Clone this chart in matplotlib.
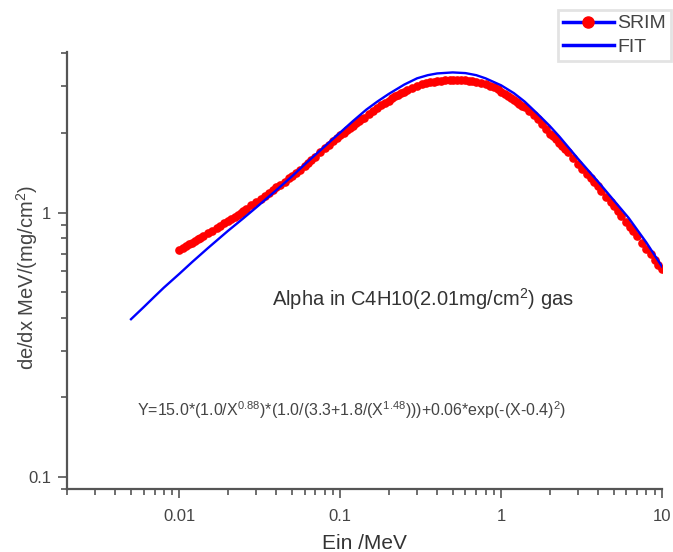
import matplotlib
matplotlib.use("Agg")
import matplotlib.pyplot as plt
from matplotlib.lines import Line2D
from matplotlib.ticker import FixedLocator, FixedFormatter, LogLocator, NullFormatter

plt.rcParams['font.family'] = ['Liberation Sans', 'DejaVu Sans']
plt.rcParams['mathtext.default'] = 'regular'

# SRIM stopping power (MeV, MeV/(mg/cm2))
srim_e = [0.0100, 0.0105, 0.0110, 0.0115, 0.0120, 0.0125, 0.0130, 0.0135, 0.0140, 0.0150,
          0.0160, 0.0170, 0.0180, 0.0190, 0.0200, 0.0210, 0.0220, 0.0230, 0.0240, 0.0250,
          0.0260, 0.0280, 0.0300, 0.0320, 0.0340, 0.0360, 0.0380, 0.0400, 0.0420, 0.0450,
          0.0480, 0.0500, 0.0530, 0.0560, 0.0600, 0.0630, 0.0660, 0.0700, 0.0750, 0.0800,
          0.0850, 0.0900, 0.0950,
          0.100, 0.105, 0.110, 0.115, 0.120, 0.125, 0.130, 0.135, 0.140, 0.150,
          0.160, 0.170, 0.180, 0.190, 0.200, 0.210, 0.220, 0.230, 0.240, 0.250,
          0.260, 0.280, 0.300, 0.320, 0.340, 0.360, 0.380, 0.400, 0.420, 0.450,
          0.480, 0.500, 0.530, 0.560, 0.600, 0.630, 0.660, 0.700, 0.750, 0.800,
          0.850, 0.900, 0.950,
          1.00, 1.05, 1.10, 1.15, 1.20, 1.25, 1.30, 1.35, 1.40, 1.50,
          1.60, 1.70, 1.80, 1.90, 2.00, 2.10, 2.20, 2.30, 2.40, 2.50,
          2.60, 2.80, 3.00, 3.20, 3.40, 3.60, 3.80, 4.00, 4.20, 4.50,
          4.80, 5.00, 5.30, 5.60, 6.00, 6.30, 6.60, 7.00, 7.50, 8.00,
          8.50, 9.00, 9.50, 10.0]
srim_dedx = [0.720, 0.733, 0.746, 0.758, 0.770, 0.781, 0.792, 0.803, 0.814, 0.835,
             0.855, 0.874, 0.893, 0.912, 0.930, 0.948, 0.965, 0.982, 0.999, 1.016,
             1.032, 1.065, 1.097, 1.129, 1.159, 1.189, 1.218, 1.245, 1.271, 1.308,
             1.347, 1.373, 1.412, 1.451, 1.502, 1.541, 1.579, 1.629, 1.690, 1.749,
             1.806, 1.861, 1.912,
             1.960, 2.005, 2.049, 2.091, 2.133, 2.173, 2.212, 2.250, 2.287, 2.357,
             2.424, 2.486, 2.545, 2.601, 2.654, 2.704, 2.751, 2.794, 2.834, 2.870,
             2.903, 2.961, 3.011, 3.052, 3.086, 3.112, 3.132, 3.148, 3.158, 3.170,
             3.177, 3.180, 3.180, 3.176, 3.167, 3.156, 3.143, 3.122, 3.092, 3.056,
             3.018, 2.976, 2.930,
             2.870, 2.820, 2.770, 2.720, 2.675, 2.630, 2.585, 2.540, 2.500, 2.420,
             2.340, 2.260, 2.170, 2.070, 1.980, 1.950, 1.890, 1.830, 1.780, 1.735,
             1.690, 1.610, 1.530, 1.465, 1.405, 1.350, 1.300, 1.255, 1.210, 1.150,
             1.095, 1.060, 1.015, 0.970, 0.920, 0.885, 0.855, 0.815, 0.770, 0.730,
             0.695, 0.660, 0.635, 0.610]

# fitted curve
fit_e = [0.005, 0.006, 0.007, 0.008, 0.010, 0.012, 0.015, 0.020, 0.025, 0.030,
         0.040, 0.050, 0.060, 0.070, 0.080, 0.090, 0.100, 0.120, 0.145, 0.170,
         0.200, 0.250, 0.300, 0.350, 0.400, 0.500, 0.600, 0.700, 0.800, 1.00,
         1.20, 1.40, 1.70, 2.00, 2.30, 3.00, 4.00, 5.00, 6.20, 8.00, 10.0]
fit_dedx = [0.395, 0.439, 0.481, 0.520, 0.587, 0.650, 0.733, 0.852, 0.952, 1.045,
            1.215, 1.370, 1.520, 1.655, 1.780, 1.900, 2.010, 2.220, 2.450, 2.630,
            2.810, 3.050, 3.220, 3.310, 3.360, 3.390, 3.370, 3.310, 3.220, 3.030,
            2.830, 2.630, 2.350, 2.130, 1.940, 1.600, 1.310, 1.115, 0.955, 0.770, 0.625]

x_ticks = [0.01, 0.1, 1, 10]
x_tick_labels = ["0.01", "0.1", "1", "10"]
y_ticks = [0.1, 1]
y_tick_labels = ["0.1", "1"]

fig = plt.figure(figsize=(6.73, 5.52), dpi=100)
ax = fig.add_axes([67 / 673, 1 - 489 / 552, 595 / 673, 437 / 552])

ax.plot(srim_e, srim_dedx, linestyle='none', marker='o', markersize=5.2,
        color='red', markeredgecolor='red', zorder=3)
ax.plot(fit_e, fit_dedx, color='blue', linewidth=1.7, zorder=4)

ax.set_xscale('log')
ax.set_yscale('log')
ax.set_xlim(0.002, 10)
ax.set_ylim(0.09, 4.05)

ax.xaxis.set_major_locator(FixedLocator(x_ticks))
ax.xaxis.set_major_formatter(FixedFormatter(x_tick_labels))
ax.yaxis.set_major_locator(FixedLocator(y_ticks))
ax.yaxis.set_major_formatter(FixedFormatter(y_tick_labels))
for axis in (ax.xaxis, ax.yaxis):
    axis.set_minor_locator(LogLocator(base=10, subs=range(2, 10)))
    axis.set_minor_formatter(NullFormatter())

spine_c = '#555555'
text_c = '#444444'
for side in ('top', 'right'):
    ax.spines[side].set_visible(False)
for side in ('left', 'bottom'):
    ax.spines[side].set_color(spine_c)
    ax.spines[side].set_linewidth(1.6)
ax.tick_params(which='major', direction='out', length=6.5, width=1.2,
               color=spine_c, labelcolor=text_c, labelsize=12)
ax.tick_params(axis='x', which='major', pad=8)
ax.tick_params(axis='y', which='major', pad=5)
ax.tick_params(which='minor', direction='out', length=4, width=1.2, color=spine_c)

ax.set_xlabel('Ein /MeV', fontsize=15, color='#333333', labelpad=7)
ax.set_ylabel('de/dx MeV/(mg/cm$^2$)', fontsize=14.5, color=text_c)
ax.yaxis.set_label_coords(-0.045, 0.484)

ax.text(0.3445, 0.435, 'Alpha in C4H10(2.01mg/cm$^2$) gas', transform=ax.transAxes,
        fontsize=14.5, color='#333333', ha='left', va='center')
ax.text(0.1176, 0.181,
        'Y=15.0*(1.0/X$^{0.88}$)*(1.0/(3.3+1.8/(X$^{1.48}$)))+0.06*exp(-(X-0.4)$^2$)',
        transform=ax.transAxes, fontsize=11.5, color=text_c, ha='left', va='center')

handles = [
    Line2D([], [], color='blue', linewidth=2.5, marker='o', markersize=8,
           markerfacecolor='red', markeredgecolor='red'),
    Line2D([], [], color='blue', linewidth=2.5),
]
leg = fig.legend(handles, ['SRIM', 'FIT'], loc='upper right',
                 bbox_to_anchor=(671 / 673, 1 - 10 / 552), fontsize=14,
                 frameon=True, fancybox=False, handlelength=2.6,
                 handletextpad=0.2, borderpad=0.25, labelspacing=0.3,
                 borderaxespad=0)
leg.get_frame().set_edgecolor('#dddddd')
leg.get_frame().set_linewidth(2)
for t in leg.get_texts():
    t.set_color(text_c)

fig.savefig('out.png', dpi=100)
